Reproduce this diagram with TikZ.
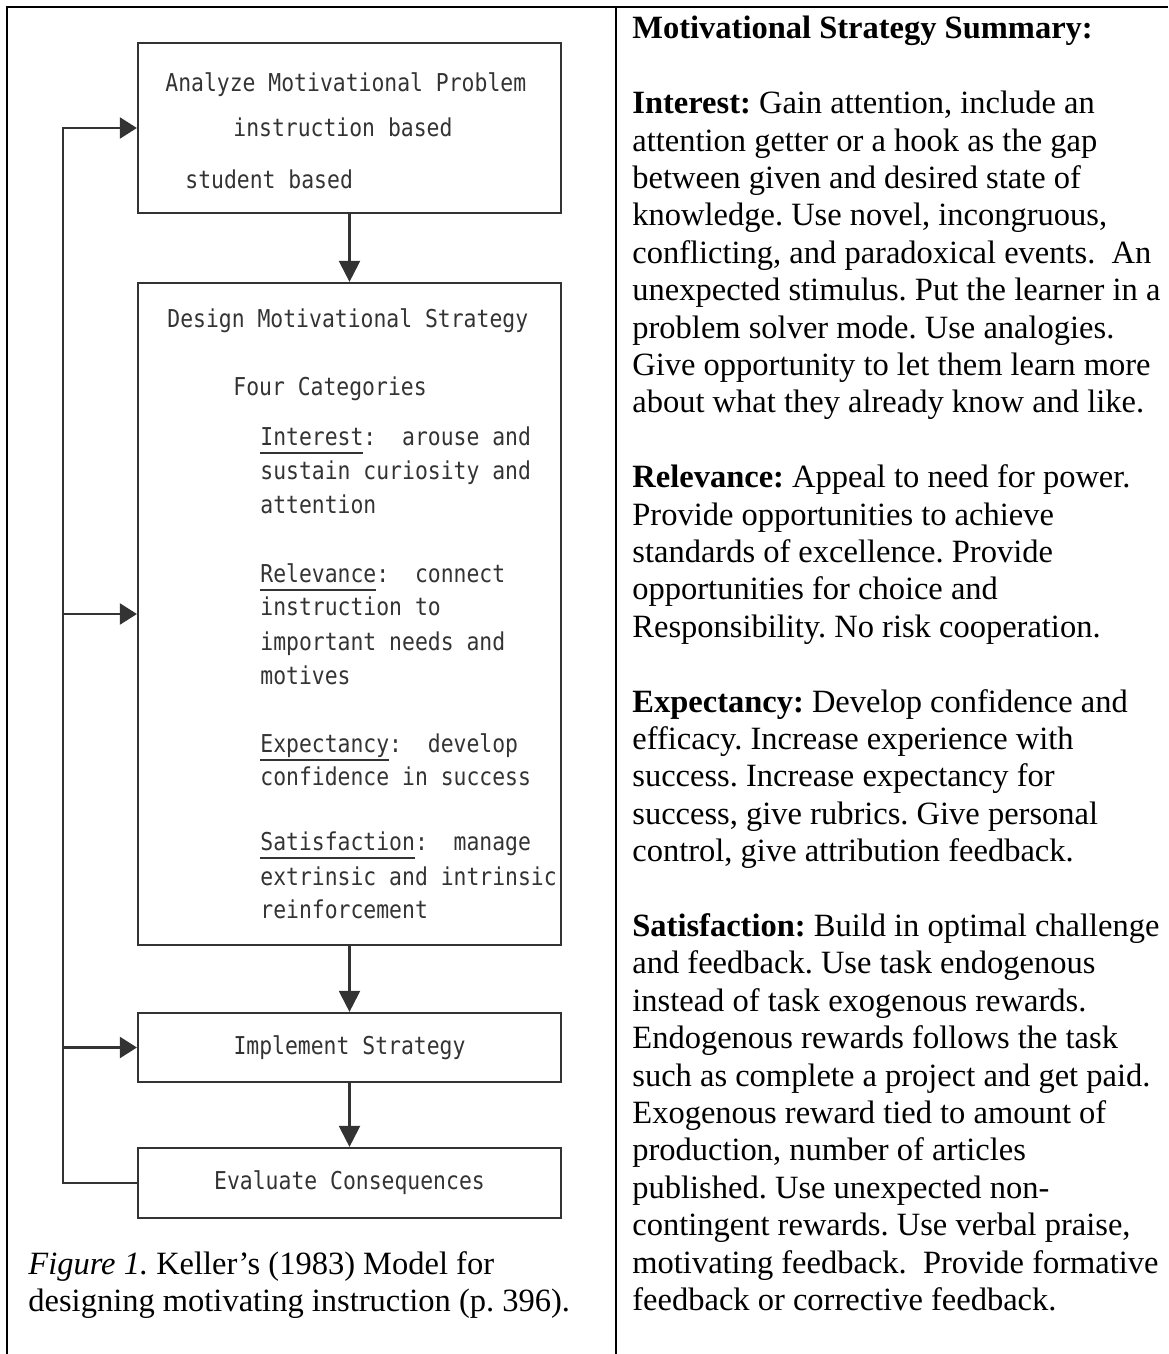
\documentclass[tikz,border=0pt]{standalone}
\usepackage{fontspec}
\setmainfont{Liberation Serif}
\newfontfamily\typefont[FakeStretch=0.87]{DejaVu Sans Mono}
\usetikzlibrary{arrows.meta}
\definecolor{scan}{HTML}{333333}
\frenchspacing
% underlined category label, rule set a little below the baseline
\newcommand\catlabel[1]{\setbox0\hbox{#1}\rlap{\rule[-4.5pt]{\wd0}{0.8pt}}\box0}
\begin{document}
\begin{tikzpicture}[x=0.5pt,y=-0.5pt,
  flowbox/.style={draw=scan, line width=1.1pt, minimum width=211.5pt, inner sep=0pt},
  boxtext/.style={text=scan, inner sep=0pt, font=\typefont\fontsize{12.3pt}{14pt}\selectfont},
  flowline/.style={draw=scan, line width=1.1pt},
  downarrow/.style={flowline, -{Triangle[length=10.5pt,width=10.5pt]}},
  sidearrow/.style={flowline, -{Triangle[length=8.5pt,width=10.5pt]}},
  rule/.style={draw=black, line width=1.3pt},
  serif/.style={inner sep=0pt, align=left, font=\fontsize{16.25pt}{18.7pt}\selectfont}]
\useasboundingbox (0,0) rectangle (1168,1354);

% table frame
\coordinate (tl) at (7,7);
\coordinate (tr) at (1168,7);
\coordinate (bl) at (7,1354);
\coordinate (dtop) at (616,7);
\coordinate (dbot) at (616,1354);
\draw[rule] (tr) -- (tl) -- (bl);
\draw[rule] (dtop) -- (dbot);

% flowchart boxes
\node[flowbox, minimum height=85pt]   (analyze)   at (349.5,128)  {};
\node[flowbox, minimum height=331pt]  (design)    at (349.5,614)  {};
\node[flowbox, minimum height=34.5pt] (implement) at (349.5,1047.5) {};
\node[flowbox, minimum height=35pt]   (evaluate)  at (349.5,1183) {};

% box texts
\node[boxtext, anchor=base west] (a1) at (165,92)  {Analyze Motivational Problem};
\node[boxtext, anchor=base west] (a2) at (233,137) {instruction based};
\node[boxtext, anchor=base west] (a3) at (185,188) {student based};

\node[boxtext, anchor=base west] (d1)  at (167,327) {Design Motivational Strategy};
\node[boxtext, anchor=base west] (d2)  at (233,395) {Four Categories};
\node[boxtext, anchor=base west] (d3)  at (260,445) {\catlabel{Interest}:\ \ arouse and};
\node[boxtext, anchor=base west] (d4)  at (260,479) {sustain curiosity and};
\node[boxtext, anchor=base west] (d5)  at (260,513) {attention};
\node[boxtext, anchor=base west] (d6)  at (260,582) {\catlabel{Relevance}:\ \ connect};
\node[boxtext, anchor=base west] (d7)  at (260,615) {instruction to};
\node[boxtext, anchor=base west] (d8)  at (260,650) {important needs and};
\node[boxtext, anchor=base west] (d9)  at (260,684) {motives};
\node[boxtext, anchor=base west] (d10) at (260,752) {\catlabel{Expectancy}:\ \ develop};
\node[boxtext, anchor=base west] (d11) at (260,785) {confidence in success};
\node[boxtext, anchor=base west] (d12) at (260,850) {\catlabel{Satisfaction}:\ \ manage};
\node[boxtext, anchor=base west] (d13) at (260,885) {extrinsic and intrinsic};
\node[boxtext, anchor=base west] (d14) at (260,918) {reinforcement};

\node[boxtext] (i1) at (implement.center) {Implement Strategy};
\node[boxtext] (e1) at (evaluate.center) {Evaluate Consequences};

% main flow
\draw[downarrow] (analyze.south) -- (design.north);
\draw[downarrow] (design.south) -- (implement.north);
\draw[downarrow] (implement.south) -- (evaluate.north);

% feedback loop
\coordinate (loopx) at (63,0);
\draw[sidearrow] (evaluate.west) -- (evaluate.west -| loopx) |- (analyze.west);
\draw[sidearrow] (design.west -| loopx) -- (design.west);
\draw[sidearrow] (implement.west -| loopx) -- (implement.west);

% caption
\node[serif, anchor=north west] (caption) at (28,1251)
  {\textit{Figure 1.} Keller’s (1983) Model for\\
   designing motivating instruction (p. 396).};

% summary column
\node[serif, anchor=north west] (summary) at (632,16)
  {\textbf{Motivational Strategy Summary:}\\
   \mbox{}\\
   \textbf{Interest:} Gain attention, include an\\
   attention getter or a hook as the gap\\
   between given and desired state of\\
   knowledge. Use novel, incongruous,\\
   conflicting, and paradoxical events.\ \ An\\
   unexpected stimulus. Put the learner in a\\
   problem solver mode. Use analogies.\\
   Give opportunity to let them learn more\\
   about what they already know and like.\\
   \mbox{}\\
   \textbf{Relevance:} Appeal to need for power.\\
   Provide opportunities to achieve\\
   standards of excellence. Provide\\
   opportunities for choice and\\
   Responsibility. No risk cooperation.\\
   \mbox{}\\
   \textbf{Expectancy:} Develop confidence and\\
   efficacy. Increase experience with\\
   success. Increase expectancy for\\
   success, give rubrics. Give personal\\
   control, give attribution feedback.\\
   \mbox{}\\
   \textbf{Satisfaction:} Build in optimal challenge\\
   and feedback. Use task endogenous\\
   instead of task exogenous rewards.\\
   Endogenous rewards follows the task\\
   such as complete a project and get paid.\\
   Exogenous reward tied to amount of\\
   production, number of articles\\
   published. Use unexpected non-\\
   contingent rewards. Use verbal praise,\\
   motivating feedback.\ \ Provide formative\\
   feedback or corrective feedback.};
\end{tikzpicture}
\end{document}
